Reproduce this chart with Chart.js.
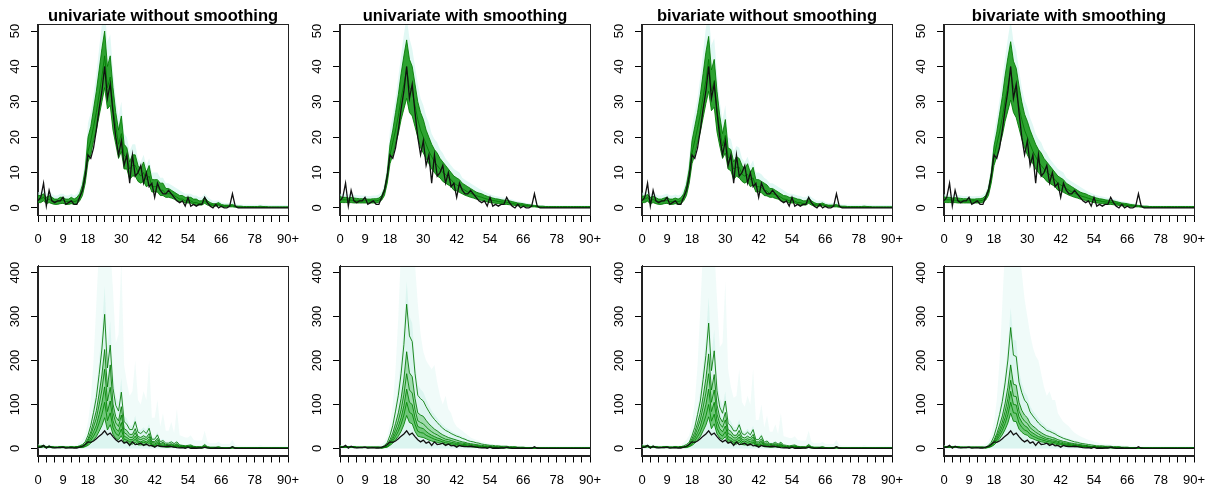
<!DOCTYPE html>
<html><head><meta charset="utf-8">
<script src="https://cdn.jsdelivr.net/npm/chart.js@4.4.0/dist/chart.umd.min.js"></script>
<style>
html,body{margin:0;padding:0;background:#fff;width:1208px;height:491px;overflow:hidden;position:relative}
</style></head><body>
<script>
const ages = [0,1,2,3,4,5,6,7,8,9,10,11,12,13,14,15,16,17,18,19,20,21,22,23,24,25,26,27,28,29,30,31,32,33,34,35,36,37,38,39,40,41,42,43,44,45,46,47,48,49,50,51,52,53,54,55,56,57,58,59,60,61,62,63,64,65,66,67,68,69,70,71,72,73,74,75,76,77,78,79,80,81,82,83,84,85,86,87,88,89,90];
const xTickVals = [0,3,6,9,12,15,18,21,24,27,30,33,36,39,42,45,48,51,54,57,60,63,66,69,72,75,78,81,84,87,90];
const xLabelVals = [0,9,18,30,42,54,66,78,90];
const xLabelTexts = ['0','9','18','30','42','54','66','78','90+'];
const yTicksTop = [0,10,20,30,40,50];
const yTicksBottom = [0,100,200,300,400];
const titles = ['univariate without smoothing','univariate with smoothing','bivariate without smoothing','bivariate with smoothing'];

const obsCases = [2,3,7,0.5,5,2,1.5,2,2,3, 1,1.5,2,1,1,3,5,9,15,14, 17,22,28,33,40,31,35,27,20,15, 19,12,15,7,15,9,10,12,7,10, 6,7,3,7,5,4,4,5,4,3, 2,1.5,2,0.5,3,0.5,1,0.5,1,1, 3,1.5,0.5,0,1,0,0.5,0,0,0.5, 4,0.5,0,0,0,0,0,0,0,0, 0,0,0,0,0,0,0,0,0,0,0];

// top row: univariate without smoothing
const top1Hi = [3.5,3.5,4,3,3.5,3,2.5,2.5,3,3, 2.5,2.5,3,2.5,3,4,6.5,11,20,23, 28,33,39,45,50,40,43,34,27,22, 26,18,17,13,15,15,12,11,13,10, 12,8,8,8,7,7,5.5,5.5,5,4.5, 4,3.5,3.5,3,3,3,2.5,2.5,2,2, 3,2,1.5,1.2,1.2,1.5,1,0.8,0.8,0.8, 1,0.6,0.5,0.5,0.4,0.4,0.4,0.4,0.4,0.4, 0.5,0.4,0.4,0.3,0.3,0.3,0.3,0.3,0.3,0.3,0.3];
const top1Mid = [2.5,2.5,3,2,2.5,2,1.8,1.8,2,2.2, 1.8,1.8,2,1.8,2,3,5,9,16,19, 23,27,32,37,43,34,37,28,23,18, 21,15,14,11,12,12,10,9,10,8, 9,6,6,6,5,5,4,4,4,3.5, 3,2.5,2.5,2,2,2,1.5,1.5,1.2,1.2, 2,1.2,1,0.8,0.8,1,0.6,0.5,0.5,0.5, 0.6,0.4,0.3,0.3,0.2,0.2,0.2,0.2,0.2,0.2, 0.3,0.2,0.2,0.2,0.2,0.2,0.2,0.2,0.2,0.2,0.2];
const top1Lo = [1.5,1.5,2,1.2,1.5,1.2,1,1,1.2,1.3, 1,1,1.2,1,1.2,2,3.5,7,13,15, 19,22,26,30,34,28,29,22,18,14, 16,11,11,8,9,9,7.5,7,7.5,6, 6.5,4.5,4.5,4.5,3.5,3.5,3,3,2.8,2.5, 2,1.8,1.8,1.4,1.4,1.4,1,1,0.8,0.8, 1.3,0.8,0.6,0.5,0.5,0.6,0.3,0.3,0.3,0.3, 0.3,0.2,0.1,0.1,0.1,0.1,0.1,0.1,0.1,0.1, 0.1,0.1,0.1,0.1,0.1,0.1,0.1,0.1,0.1,0.1,0.1];
const top1Fan = [4.5,4.5,5,4,4.5,4,3.5,3.5,4,4, 3.5,3.5,4,3.5,4,5.5,8.5,14,24,27, 32,38,45,52,56,47,49,39,31,26, 30,21,20,16,18,18,14,13,15,12, 14,10,10,10,8.5,8.5,7,7,6.5,6, 5.5,5,4.5,4,4,4,3.5,3.5,3,3, 4,3,2.5,2,2,2.2,1.6,1.4,1.4,1.4, 1.6,1.2,1,1,0.9,0.9,0.9,0.9,0.9,0.9, 1,0.9,0.9,0.8,0.8,0.8,0.8,0.8,0.8,0.8,0.8];

// top row: univariate with smoothing
const top2Hi = [3.2,3,3,2.8,3,2.8,2.7,2.6,2.6,2.6, 2.5,2.5,2.6,2.6,2.8,3.5,5.5,10,18,22, 27,32,38,43,47.5,42,40,35,30,27, 25,22,20,18,16.5,15.5,14,13,12,11, 10,9,8.5,8,7,6.5,6,5.5,5,4.5, 4.2,4,3.6,3.3,3,2.8,2.6,2.5,2.3,2.2, 2.2,2,1.8,1.6,1.4,1.3,1.2,1,0.9,0.8, 0.7,0.6,0.5,0.5,0.4,0.4,0.4,0.4,0.4,0.4, 0.4,0.4,0.4,0.4,0.4,0.4,0.4,0.4,0.4,0.4,0.4];
const top2Mid = [2.4,2.3,2.3,2.2,2.2,2.1,2,2,2,2, 2,2,2,2,2.2,2.8,4.5,8.5,15,18.5, 22,26,31,35,39,34,33,29,25,22, 20,18,16,14.5,13,12,11,10,9.5,8.5, 8,7,6.5,6,5.5,5,4.5,4.2,3.8,3.5, 3.2,3,2.7,2.5,2.3,2.1,2,1.8,1.7,1.6, 1.6,1.4,1.3,1.1,1,0.9,0.8,0.7,0.6,0.5, 0.5,0.4,0.3,0.3,0.3,0.2,0.2,0.2,0.2,0.2, 0.2,0.2,0.2,0.2,0.2,0.2,0.2,0.2,0.2,0.2,0.2];
const top2Lo = [1.6,1.5,1.5,1.5,1.5,1.4,1.4,1.4,1.4,1.4, 1.4,1.4,1.4,1.4,1.6,2.2,3.5,7,12.5,15, 18,21,25,28,31,27,26,23,20,17, 15.5,14,12.5,11,10,9,8.5,7.5,7,6.5, 6,5,4.8,4.4,4,3.6,3.3,3,2.8,2.5, 2.3,2.1,1.9,1.7,1.5,1.4,1.3,1.2,1.1,1, 1,0.9,0.8,0.7,0.6,0.5,0.5,0.4,0.3,0.3, 0.3,0.2,0.1,0.1,0.1,0.1,0.1,0.1,0.1,0.1, 0.1,0.1,0.1,0.1,0.1,0.1,0.1,0.1,0.1,0.1,0.1];
const top2Fan = [4,4,4,3.8,4,3.8,3.6,3.5,3.5,3.5, 3.4,3.4,3.5,3.5,3.8,4.6,7,12.5,22,26, 31,37,43,49,54,48,45,40,35,31, 29,26,24,21,19.5,18.5,16.5,15.5,14,13, 12,11,10.5,10,8.5,8,7.5,7,6.5,6, 5.5,5,4.6,4.2,3.9,3.6,3.4,3.2,3,2.9, 2.8,2.6,2.4,2.1,1.9,1.8,1.6,1.4,1.3,1.1, 1,0.9,0.8,0.8,0.7,0.7,0.7,0.7,0.7,0.7, 0.7,0.7,0.7,0.7,0.7,0.7,0.7,0.7,0.7,0.7,0.7];

// top row: bivariate without smoothing
const top3Hi = [3.3,3.4,3.8,3,3.3,2.9,2.5,2.5,2.8,3, 2.5,2.5,2.8,2.5,2.9,4,6.5,11,19,23, 27,32,38,44,48.5,39,42,33,26,21, 25,17,16.5,13,14.5,14,12,11,12.5,10, 11.5,8,8,7.5,7,6.5,5.5,5.5,5,4.5, 4,3.5,3.4,3,3,2.8,2.5,2.4,2,2, 2.8,2,1.5,1.2,1.2,1.4,1,0.8,0.8,0.8, 1,0.6,0.5,0.5,0.4,0.4,0.4,0.4,0.4,0.4, 0.5,0.4,0.4,0.3,0.3,0.3,0.3,0.3,0.3,0.3,0.3];
const top3Mid = [2.4,2.5,2.9,2,2.4,2,1.8,1.8,2,2.1, 1.8,1.8,2,1.8,2,3,5,9,15.5,19, 22.5,26.5,31.5,36,42,33,36,27.5,22,17.5, 20.5,14.5,13.5,11,11.5,11.5,9.5,9,9.5,8, 8.5,6,6,5.8,5,4.8,4,4,3.8,3.4, 3,2.5,2.4,2,2,1.9,1.5,1.5,1.2,1.2, 1.9,1.2,1,0.8,0.8,1,0.6,0.5,0.5,0.5, 0.6,0.4,0.3,0.3,0.2,0.2,0.2,0.2,0.2,0.2, 0.3,0.2,0.2,0.2,0.2,0.2,0.2,0.2,0.2,0.2,0.2];
const top3Lo = [1.5,1.5,1.9,1.2,1.5,1.2,1,1,1.2,1.3, 1,1,1.2,1,1.2,2,3.5,7,12.5,15, 18.5,21.5,25.5,29.5,33,27.5,28.5,21.5,17.5,14, 15.5,11,10.5,8,9,8.5,7.5,7,7.5,6, 6.5,4.5,4.5,4.3,3.5,3.4,3,3,2.7,2.5, 2,1.8,1.8,1.4,1.4,1.4,1,1,0.8,0.8, 1.3,0.8,0.6,0.5,0.5,0.6,0.3,0.3,0.3,0.3, 0.3,0.2,0.1,0.1,0.1,0.1,0.1,0.1,0.1,0.1, 0.1,0.1,0.1,0.1,0.1,0.1,0.1,0.1,0.1,0.1,0.1];
const top3Fan = [4.3,4.4,4.8,4,4.3,3.9,3.5,3.5,3.8,4, 3.5,3.5,3.8,3.5,3.9,5.5,8.5,14,23,27, 31,37,44,51,55,46,48,38,30,25, 29,20,19.5,16,17.5,17,14,13,14.5,12, 13.5,10,10,9.5,8.5,8,7,7,6.5,6, 5.5,5,4.4,4,4,3.8,3.5,3.4,3,3, 3.8,3,2.5,2,2,2.1,1.6,1.4,1.4,1.4, 1.6,1.2,1,1,0.9,0.9,0.9,0.9,0.9,0.9, 1,0.9,0.9,0.8,0.8,0.8,0.8,0.8,0.8,0.8,0.8];

// top row: bivariate with smoothing
const top4Hi = [3.1,3,3,2.8,2.9,2.8,2.7,2.6,2.6,2.6, 2.5,2.5,2.6,2.6,2.8,3.5,5.5,10,17.5,21.5, 26.5,31.5,37.5,42.5,47,41.5,39.5,34.5,30,26.5, 24.5,22,20,18,16.5,15.5,14,13,12,11, 10,9,8.5,8,7,6.5,6,5.5,5,4.5, 4.2,4,3.6,3.3,3,2.8,2.6,2.5,2.3,2.2, 2.2,2,1.8,1.6,1.4,1.3,1.2,1,0.9,0.8, 0.7,0.6,0.5,0.5,0.4,0.4,0.4,0.4,0.4,0.4, 0.4,0.4,0.4,0.4,0.4,0.4,0.4,0.4,0.4,0.4,0.4];
const top4Mid = [2.4,2.3,2.3,2.2,2.2,2.1,2,2,2,2, 2,2,2,2,2.2,2.8,4.5,8.5,14.5,18, 21.5,25.5,30.5,34.5,38.5,34,32.5,28.5,25,22, 20,18,16,14.5,13,12,11,10,9.5,8.5, 8,7,6.5,6,5.5,5,4.5,4.2,3.8,3.5, 3.2,3,2.7,2.5,2.3,2.1,2,1.8,1.7,1.6, 1.6,1.4,1.3,1.1,1,0.9,0.8,0.7,0.6,0.5, 0.5,0.4,0.3,0.3,0.3,0.2,0.2,0.2,0.2,0.2, 0.2,0.2,0.2,0.2,0.2,0.2,0.2,0.2,0.2,0.2,0.2];
const top4Lo = [1.6,1.5,1.5,1.5,1.5,1.4,1.4,1.4,1.4,1.4, 1.4,1.4,1.4,1.4,1.6,2.2,3.5,7,12,14.5, 17.5,20.5,24.5,27.5,30.5,27,25.5,22.5,19.5,17, 15,13.5,12.5,11,10,9,8.5,7.5,7,6.5, 6,5,4.8,4.4,4,3.6,3.3,3,2.8,2.5, 2.3,2.1,1.9,1.7,1.5,1.4,1.3,1.2,1.1,1, 1,0.9,0.8,0.7,0.6,0.5,0.5,0.4,0.3,0.3, 0.3,0.2,0.1,0.1,0.1,0.1,0.1,0.1,0.1,0.1, 0.1,0.1,0.1,0.1,0.1,0.1,0.1,0.1,0.1,0.1,0.1];
const top4Fan = [3.9,3.8,3.8,3.7,3.8,3.7,3.5,3.4,3.4,3.4, 3.3,3.3,3.4,3.4,3.7,4.5,7,12,21,25.5, 30.5,36.5,42.5,48,53,47,44.5,39,34,30.5, 28.5,25.5,23.5,21,19.5,18.5,16.5,15.5,14,13, 12,11,10.5,10,8.5,8,7.5,7,6.5,6, 5.5,5,4.6,4.2,3.9,3.6,3.4,3.2,3,2.9, 2.8,2.6,2.4,2.1,1.9,1.8,1.6,1.4,1.3,1.1, 1,0.9,0.8,0.8,0.7,0.7,0.7,0.7,0.7,0.7, 0.7,0.7,0.7,0.7,0.7,0.7,0.7,0.7,0.7,0.7,0.7];

// bottom row: univariate without smoothing
const bot1L1 = [5,5,6,4,5,4,3,3,4,4,3,3,4,3,4, 6,9,15,30,52,82,116,168,226,305,183,235,137,98,85,128,61,55,43,43,61,37,34,40,34,46,21,21,31,15,18,12,12,15,11,15,8,7,6,7,8, 5,4,4,4,9,4,3,3,3,4,2,2,2,2,4,2,1,1,1,1,1,1,1,1,2,1,1,1,1,1,1,1,1,1,1];
const bot1L2 = [5,5,6,4,5,4,3,3,4,4,3,3,4,3,4, 5,7,11,22,38,61,86,124,167,225,140,190,101,72,63,95,45,41,32,32,45,27,25,29,25,34,16,16,23,11,14,9,9,11,8,11,6,6,5,5,6, 4,3,3,3,7,3,2,2,2,3,2,2,1,1,3,1,1,1,1,1,1,1,1,1,1,1,1,1,1,1,1,1,1,1,1];
const bot1L3 = [5,5,6,4,5,4,3,3,4,4,3,3,4,3,4, 4,5,9,18,31,49,68,99,133,180,108,139,81,58,50,76,36,32,25,25,36,22,20,23,20,27,13,13,18,9,11,7,7,9,6,9,5,5,4,4,5, 3,3,3,2,5,3,2,2,2,2,1,1,1,1,2,1,1,1,1,1,1,1,1,1,1,1,1,1,1,1,1,1,1,1,1];
const bot1L4 = [3,3,4,2,3,2,2,2,2,2,2,2,2,2,3, 3,4,7,14,24,38,53,77,104,140,84,108,63,45,39,59,28,25,20,20,28,17,15,18,15,21,10,10,14,7,8,6,6,7,5,7,4,4,3,3,4, 3,2,2,2,4,2,2,1,1,2,1,1,1,1,2,1,1,1,1,1,1,1,1,1,1,1,1,1,1,1,1,1,1,1,1];
const bot1L5 = [3,3,4,2,3,2,2,2,2,2,2,2,2,2,3, 3,3,5,11,18,28,40,58,78,105,63,81,47,34,29,44,21,19,15,15,21,13,12,14,12,16,7,7,11,5,6,4,4,5,4,5,3,3,3,3,3, 2,2,2,2,3,2,1,1,1,1,1,1,1,1,1,1,1,1,1,1,1,1,1,1,1,1,1,1,1,1,1,1,1,1,1];
const bot1L6 = [3,3,4,2,3,2,2,2,2,2,2,2,2,2,3, 2,2,4,7,12,19,27,39,52,70,42,54,32,22,20,29,14,13,10,10,14,8,8,9,8,11,5,5,7,4,4,3,3,4,3,4,2,2,2,2,2, 2,1,1,1,2,1,1,1,1,1,1,1,1,1,1,1,1,1,1,1,1,1,1,1,1,1,1,1,1,1,1,1,1,1,1];
const bot1FanIn = [6,6,8,5,6,5,4,4,5,5,4,4,5,4,5, 8,11,18,36,62,98,140,200,270,370,230,290,170,120,105,160,75,68,52,52,75,45,42,48,42,56,26,26,38,18,22,15,15,18,13,18,10,9,8,9,10, 7,6,6,6,12,6,5,5,5,6,4,4,4,4,6,3,3,3,3,3,3,3,3,3,3,3,3,3,3,3,3,3,3,3,3];
const bot1FanOut = [10,10,12,8,10,8,7,7,8,8,7,7,8,7,8, 14,20,32,60,110,200,330,460,460,460,460,460,360,240,260,430,190,150,120,130,200,110,100,130,110,200,70,70,110,50,80,40,40,60,35,90,30,28,25,25,30, 20,18,18,18,40,15,12,12,12,15,10,10,10,10,20,8,7,7,6,6,6,6,6,6,8,6,6,6,6,6,6,6,6,6,6];

// bottom row: univariate with smoothing
const bot2L1 = [4,4,4,4,4,4,3,3,3,3,3,3,3,3,3, 3,7,13,30,52,85,121,171,236,328,256,243,171,121,113,108,95,84,74,66,59,52,46,41,38,34,31,28,26,23,21,18,16,15,13,12,10,9,8,7,7, 6,6,5,5,5,4,4,4,3,3,3,2,2,2,2,2,1,1,1,1,1,1,1,1,1,1,1,1,1,1,1,1,1,1,1];
const bot2L2 = [4,4,4,4,4,4,3,3,3,3,3,3,3,3,3, 2,4,9,20,35,57,81,114,158,220,172,163,114,81,76,73,64,56,50,44,40,35,31,28,25,23,21,19,17,15,14,12,11,10,9,8,7,6,6,5,4, 4,4,4,3,3,3,3,3,2,2,2,2,1,1,1,1,1,1,1,1,1,1,1,1,1,1,1,1,1,1,1,1,1,1,1];
const bot2L3 = [4,4,4,4,4,4,3,3,3,3,3,3,3,3,3, 2,3,7,15,27,44,63,88,122,170,133,126,88,63,59,56,49,43,38,34,31,27,24,21,20,18,16,14,13,12,11,10,9,8,7,6,5,5,4,4,3, 3,3,3,3,3,2,2,2,2,2,1,1,1,1,1,1,1,1,1,1,1,1,1,1,1,1,1,1,1,1,1,1,1,1,1];
const bot2L4 = [3,3,3,3,3,3,2,2,2,2,2,2,2,2,2, 1,3,5,12,22,35,50,70,97,135,105,100,70,50,47,45,39,34,30,27,24,22,19,17,16,14,13,11,11,9,9,8,7,6,5,5,4,4,3,3,3, 3,2,2,2,2,2,2,2,1,1,1,1,1,1,1,1,1,1,1,1,1,1,1,1,1,1,1,1,1,1,1,1,1,1,1];
const bot2L5 = [3,3,3,3,3,3,2,2,2,2,2,2,2,2,2, 1,2,4,9,17,27,39,55,76,105,82,78,55,39,36,35,30,27,24,21,19,17,15,13,12,11,10,9,8,7,7,6,5,5,4,4,3,3,3,2,2, 2,2,2,2,2,1,1,1,1,1,1,1,1,1,1,1,1,1,1,1,1,1,1,1,1,1,1,1,1,1,1,1,1,1,1];
const bot2L6 = [3,3,3,3,3,3,2,2,2,2,2,2,2,2,2, 1,2,3,7,12,20,28,39,54,75,59,56,39,28,26,25,22,19,17,15,14,12,11,9,9,8,7,6,6,5,5,4,4,3,3,3,2,2,2,2,2, 2,1,1,1,1,1,1,1,1,1,1,1,1,1,1,1,1,1,1,1,1,1,1,1,1,1,1,1,1,1,1,1,1,1,1];
const bot2FanIn = [5,5,5,5,5,5,4,4,4,4,4,4,4,4,5, 5,9,16,36,62,100,145,205,280,380,300,285,200,145,135,128,112,98,86,77,69,61,54,48,44,40,36,33,30,27,24,21,19,17,15,14,12,11,10,9,8, 7,7,6,6,6,5,5,5,4,4,4,3,3,3,3,3,2,2,2,2,2,2,2,2,2,2,2,2,2,2,2,2,2,2,2];
const bot2FanOut = [8,8,8,8,8,8,7,7,7,7,7,7,7,7,8, 10,16,28,55,100,180,300,460,460,460,460,460,420,330,260,220,200,190,180,190,150,120,100,120,90,80,60,50,45,40,35,30,25,22,20,18,15,14,12,11,10, 9,9,8,8,8,7,7,7,6,6,6,6,6,6,6,6,6,6,6,6,6,6,6,6,6,6,6,6,6,6,6,6,6,6,6];

// bottom row: bivariate without smoothing
const bot3L1 = [5,5,6,4,5,4,3,3,4,4,3,3,4,3,4, 6,9,14,29,48,77,108,157,211,285,177,222,131,94,80,108,57,51,40,40,54,34,31,37,31,43,20,20,29,14,17,11,11,14,10,14,8,7,6,7,8, 5,4,4,4,9,4,3,3,3,4,2,2,2,2,4,2,1,1,1,1,1,1,1,1,2,1,1,1,1,1,1,1,1,1,1];
const bot3L2 = [5,5,6,4,5,4,3,3,4,4,3,3,4,3,4, 4,6,11,22,37,58,82,118,159,215,133,168,99,71,60,82,43,39,30,30,41,26,24,28,24,32,15,15,22,11,13,9,9,11,8,11,6,5,4,5,6, 4,3,3,3,7,3,2,2,2,3,2,2,1,1,3,1,1,1,1,1,1,1,1,1,1,1,1,1,1,1,1,1,1,1,1];
const bot3L3 = [5,5,6,4,5,4,3,3,4,4,3,3,4,3,4, 3,5,9,17,29,46,65,94,126,170,105,133,78,56,48,65,34,31,24,24,32,20,19,22,19,26,12,12,17,9,10,7,7,9,6,9,5,4,3,4,5, 3,3,3,2,5,3,2,2,2,2,1,1,1,1,2,1,1,1,1,1,1,1,1,1,1,1,1,1,1,1,1,1,1,1,1];
const bot3L4 = [3,3,4,2,3,2,2,2,2,2,2,2,2,2,3, 3,4,7,14,23,36,51,74,100,135,84,105,62,45,38,51,27,24,19,19,26,16,15,18,15,20,9,9,14,7,8,5,5,7,5,7,4,3,3,3,4, 3,2,2,2,4,2,2,1,1,2,1,1,1,1,2,1,1,1,1,1,1,1,1,1,1,1,1,1,1,1,1,1,1,1,1];
const bot3L5 = [3,3,4,2,3,2,2,2,2,2,2,2,2,2,3, 2,3,5,10,17,27,38,55,74,100,62,78,46,33,28,38,20,18,14,14,19,12,11,13,11,15,7,7,10,5,6,4,4,5,4,5,3,2,2,2,3, 2,2,2,2,3,2,1,1,1,1,1,1,1,1,1,1,1,1,1,1,1,1,1,1,1,1,1,1,1,1,1,1,1,1,1];
const bot3L6 = [3,3,4,2,3,2,2,2,2,2,2,2,2,2,3, 2,2,4,7,12,19,27,40,53,72,45,56,33,24,20,27,14,13,10,10,14,9,8,9,8,11,5,5,7,4,4,3,3,4,3,4,2,2,2,2,2, 2,1,1,1,2,1,1,1,1,1,1,1,1,1,1,1,1,1,1,1,1,1,1,1,1,1,1,1,1,1,1,1,1,1,1];
const bot3FanIn = [6,6,8,5,6,5,4,4,5,5,4,4,5,4,5, 8,11,17,34,58,92,130,188,252,345,215,270,160,115,97,130,70,62,48,48,66,41,38,45,38,52,24,24,35,17,20,14,14,17,12,17,9,8,7,8,9, 7,6,6,6,12,6,5,5,5,6,4,4,4,4,6,3,3,3,3,3,3,3,3,3,3,3,3,3,3,3,3,3,3,3,3];
const bot3FanOut = [10,10,12,8,10,8,7,7,8,8,7,7,8,7,8, 14,20,30,58,105,190,320,460,460,460,460,460,340,230,240,380,180,140,115,120,180,105,95,120,100,180,65,65,100,48,75,38,38,55,33,80,28,26,24,24,28, 20,18,18,18,40,15,12,12,12,15,10,10,10,10,20,8,7,7,6,6,6,6,6,6,8,6,6,6,6,6,6,6,6,6,6];

// bottom row: bivariate with smoothing
const bot4L1 = [4,4,4,4,4,4,3,3,3,3,3,3,3,3,3, 3,7,14,28,50,77,107,149,201,275,212,209,151,127,110,102,83,74,66,58,52,47,41,39,36,33,29,26,23,21,19,17,15,14,12,11,10,9,8,7,6, 6,6,5,5,5,4,4,4,3,3,3,2,2,2,2,2,1,1,1,1,1,1,1,1,1,1,1,1,1,1,1,1,1,1,1];
const bot4L2 = [4,4,4,4,4,4,3,3,3,3,3,3,3,3,3, 2,5,10,19,34,53,74,103,139,190,146,144,105,87,76,70,57,51,46,40,36,32,29,27,25,23,20,18,16,15,13,12,11,10,9,8,7,6,5,5,4, 4,4,4,3,3,3,3,3,2,2,2,2,1,1,1,1,1,1,1,1,1,1,1,1,1,1,1,1,1,1,1,1,1,1,1];
const bot4L3 = [4,4,4,4,4,4,3,3,3,3,3,3,3,3,3, 2,4,8,16,28,43,60,84,113,155,119,118,85,71,62,57,47,42,37,33,29,26,23,22,20,19,16,15,13,12,11,10,9,8,7,6,6,5,4,4,3, 3,3,3,3,3,2,2,2,2,2,1,1,1,1,1,1,1,1,1,1,1,1,1,1,1,1,1,1,1,1,1,1,1,1,1];
const bot4L4 = [3,3,3,3,3,3,2,2,2,2,2,2,2,2,2, 2,3,7,13,23,36,51,70,95,130,100,99,72,60,52,48,39,35,31,27,25,22,20,18,17,16,14,12,11,10,9,8,7,7,6,5,5,4,4,3,3, 3,2,2,2,2,2,2,2,1,1,1,1,1,1,1,1,1,1,1,1,1,1,1,1,1,1,1,1,1,1,1,1,1,1,1];
const bot4L5 = [3,3,3,3,3,3,2,2,2,2,2,2,2,2,2, 1,3,5,11,19,29,41,57,77,105,81,80,58,48,42,39,32,28,25,22,20,18,16,15,14,13,11,10,9,8,7,7,6,5,5,4,4,3,3,3,2, 2,2,2,2,2,1,1,1,1,1,1,1,1,1,1,1,1,1,1,1,1,1,1,1,1,1,1,1,1,1,1,1,1,1,1];
const bot4L6 = [3,3,3,3,3,3,2,2,2,2,2,2,2,2,2, 1,2,4,8,14,22,31,43,58,80,62,61,44,37,32,30,24,22,19,17,15,14,12,11,10,10,8,8,7,6,6,5,4,4,4,3,3,3,2,2,2, 2,1,1,1,1,1,1,1,1,1,1,1,1,1,1,1,1,1,1,1,1,1,1,1,1,1,1,1,1,1,1,1,1,1,1];
const bot4FanIn = [5,5,5,5,5,5,4,4,4,4,4,4,4,4,5, 5,9,17,34,58,90,125,175,235,320,248,245,177,149,129,120,97,86,77,68,61,55,48,45,42,39,34,30,27,24,22,20,18,16,14,13,12,11,10,9,8, 7,7,6,6,6,5,5,5,4,4,4,3,3,3,3,3,2,2,2,2,2,2,2,2,2,2,2,2,2,2,2,2,2,2,2];
const bot4FanOut = [8,8,8,8,8,8,7,7,7,7,7,7,7,7,8, 10,16,30,60,110,200,330,460,460,460,460,460,460,400,340,300,260,230,210,200,170,140,120,130,110,110,80,70,60,55,50,42,36,32,28,25,22,20,18,16,14, 12,11,10,10,9,9,8,8,8,7,7,7,6,6,6,6,6,6,6,6,6,6,6,6,6,6,6,6,6,6,6,6,6,6,6];

const FONT = "'Liberation Sans', Arial, Helvetica, sans-serif";

const panelDefs = [
  {row:0,col:0,title:titles[0],lines:[top1Hi,top1Mid,top1Lo],fan:top1Fan},
  {row:0,col:1,title:titles[1],lines:[top2Hi,top2Mid,top2Lo],fan:top2Fan},
  {row:0,col:2,title:titles[2],lines:[top3Hi,top3Mid,top3Lo],fan:top3Fan},
  {row:0,col:3,title:titles[3],lines:[top4Hi,top4Mid,top4Lo],fan:top4Fan},
  {row:1,col:0,lines:[bot1L1,bot1L2,bot1L3,bot1L4,bot1L5,bot1L6],fanIn:bot1FanIn,fanOut:bot1FanOut},
  {row:1,col:1,lines:[bot2L1,bot2L2,bot2L3,bot2L4,bot2L5,bot2L6],fanIn:bot2FanIn,fanOut:bot2FanOut},
  {row:1,col:2,lines:[bot3L1,bot3L2,bot3L3,bot3L4,bot3L5,bot3L6],fanIn:bot3FanIn,fanOut:bot3FanOut},
  {row:1,col:3,lines:[bot4L1,bot4L2,bot4L3,bot4L4,bot4L5,bot4L6],fanIn:bot4FanIn,fanOut:bot4FanOut}
];

const framePlugin = {
  id:'frame',
  afterDraw(chart, args, opts){
    const {ctx, chartArea:a} = chart;
    ctx.save();
    ctx.strokeStyle = '#222';
    ctx.lineWidth = 1;
    const l = Math.round(a.left) - 0.5, t = Math.round(a.top) + 0.5;
    const r = Math.round(a.right) + 0.5, b = Math.round(a.bottom) + 0.5;
    ctx.strokeRect(l, t, r - l, b - t);
    if (opts.title) {
      ctx.fillStyle = '#000';
      ctx.font = 'bold 16.5px ' + FONT;
      ctx.textAlign = 'center';
      ctx.textBaseline = 'alphabetic';
      ctx.fillText(opts.title, (a.left + a.right) / 2, 21);
    }
    ctx.restore();
  }
};

function build(def){
  const isTop = def.row === 0;
  const W = 302, H = isTop ? 245 : 246;
  const cv = document.createElement('canvas');
  cv.width = W; cv.height = H;
  cv.style.cssText = 'position:absolute;left:' + (def.col*302) + 'px;top:' + (isTop ? 0 : 245) + 'px;width:' + W + 'px;height:' + H + 'px';
  document.body.appendChild(cv);
  const clear = 'rgba(0,0,0,0)';
  const lineStyle = {borderColor:'rgba(0,120,0,0.85)', borderWidth:1, pointRadius:0, tension:0, fill:false};
  const datasets = [];
  if (isTop) {
    datasets.push({...lineStyle, data:def.lines[0], order:3, fill:{target:2}, backgroundColor:'rgba(0,140,0,0.8)'});
    datasets.push({...lineStyle, data:def.lines[1], order:2});
    datasets.push({...lineStyle, data:def.lines[2], order:2});
    datasets.push({data:def.fan, borderColor:clear, borderWidth:0, pointRadius:0, order:10, fill:{target:2}, backgroundColor:'rgba(200,242,235,0.55)'});
  } else {
    const n = def.lines.length;
    def.lines.forEach((arr, i) => {
      const ds = {...lineStyle, data:arr, order:3};
      if (i === 1) { ds.fill = {target:n-1}; ds.backgroundColor = 'rgba(0,150,0,0.28)'; }
      if (i === 3) { ds.fill = {target:n-1}; ds.backgroundColor = 'rgba(0,150,0,0.3)'; }
      datasets.push(ds);
    });
    datasets.push({data:def.fanOut, borderColor:clear, borderWidth:0, pointRadius:0, order:11, fill:'origin', backgroundColor:'rgba(215,245,240,0.38)'});
    datasets.push({data:def.fanIn, borderColor:clear, borderWidth:0, pointRadius:0, order:10, fill:'origin', backgroundColor:'rgba(190,238,228,0.4)'});
  }
  datasets.push({data:obsCases, borderColor:'#111', borderWidth:1.3, pointRadius:0, tension:0, fill:false, order:0});

  const tickFont = {family:FONT, size:13};
  new Chart(cv, {
    type:'line',
    data:{labels:ages, datasets},
    options:{
      responsive:false, animation:false, devicePixelRatio:1,
      layout:{padding:{top:isTop ? 24 : 20.5, right:14, left:0, bottom:0}},
      plugins:{legend:{display:false}, tooltip:{enabled:false}, frame:{title:def.title}},
      scales:{
        x:{type:'linear', min:0, max:90,
          afterBuildTicks:s => { s.ticks = xTickVals.map(v => ({value:v})); },
          afterFit:s => { s.height = isTop ? 30 : 35.5; s.paddingLeft = 0; s.paddingRight = 0; },
          ticks:{autoSkip:false, maxRotation:0, minRotation:0, padding:10, color:'#000', font:tickFont,
            callback:(v) => { const i = xLabelVals.indexOf(v); return i < 0 ? '' : xLabelTexts[i]; }},
          grid:{drawOnChartArea:false, drawTicks:true, tickLength:7, color:'#000', lineWidth:1},
          border:{display:true, color:'#222'}
        },
        y:{type:'linear', min:isTop ? -2 : -16, max:isTop ? 52 : 416,
          afterBuildTicks:s => { s.ticks = (isTop ? yTicksTop : yTicksBottom).map(v => ({value:v})); },
          afterFit:s => { s.width = 38; s.paddingTop = 0; s.paddingBottom = 0; },
          ticks:{minRotation:90, maxRotation:90, crossAlign:'center', padding:isTop ? 8.8 : 5.2, color:'#000', font:tickFont},
          grid:{drawOnChartArea:false, drawTicks:true, tickLength:7, color:'#000', lineWidth:1},
          border:{display:true, color:'#222'}
        }
      }
    },
    plugins:[framePlugin]
  });
}
panelDefs.forEach(build);
</script>
</body></html>
